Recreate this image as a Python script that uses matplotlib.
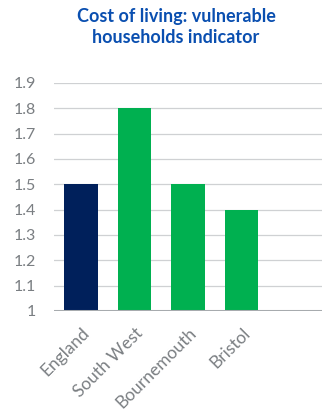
import matplotlib.pyplot as plt

# data
places = ['England', 'South West', 'Bournemouth', 'Bristol', '']
values = [1.5, 1.8, 1.5, 1.4, None]
bar_colours = ['#00205b', '#00b050', '#00b050', '#00b050']
yticks = [1, 1.1, 1.2, 1.3, 1.4, 1.5, 1.6, 1.7, 1.8, 1.9]

plt.rcParams['font.family'] = ['Lato', 'DejaVu Sans']

fig = plt.figure(figsize=(3.29, 4.16), dpi=100)
ax = fig.add_axes([54 / 329, 1 - 311 / 416, 268 / 329, (311 - 83) / 416])

x = list(range(len(places)))
for i, v in enumerate(values):
    if v is None:
        continue
    ax.bar(x[i], v - 1, bottom=1, width=0.63, color=bar_colours[i], zorder=3)

ax.set_xlim(-0.5, len(places) - 0.5)
ax.set_ylim(1, 1.9)
ax.set_yticks(yticks)
ax.set_yticklabels(['1'] + ['%.1f' % t for t in yticks[1:]])
ax.grid(axis='y', color='#cfd1d3', linewidth=0.9, zorder=0)
ax.axhline(1, color='#a7abae', linewidth=2.2, zorder=4)

ax.set_xticks(x[:4])
ax.set_xticklabels(places[:4], rotation=45, ha='right', va='top',
                   rotation_mode='anchor', fontsize=12.5)
for s in ax.spines.values():
    s.set_visible(False)
ax.tick_params(axis='both', length=0, colors='#7a7e82')
ax.tick_params(axis='y', pad=13, labelsize=11.5)
ax.tick_params(axis='x', pad=10)

fig.text(176 / 329, 1 - 27 / 416, 'Cost of living: vulnerable\nhouseholds indicator',
         ha='center', va='center', fontsize=13, fontweight='bold',
         color='#0a4fb0', linespacing=1.35)

fig.savefig('out.png', dpi=100)
